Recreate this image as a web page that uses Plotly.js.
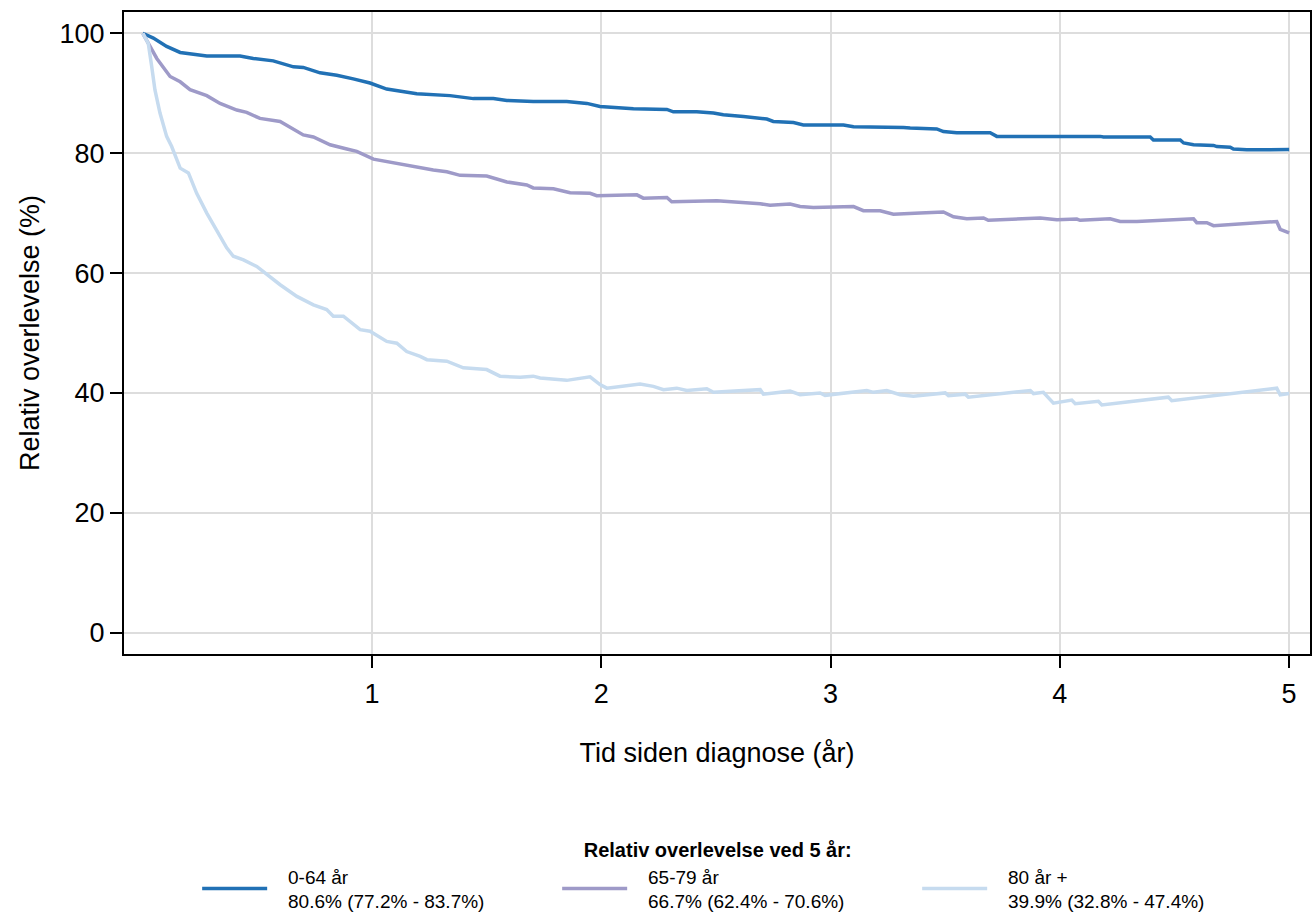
<!DOCTYPE html>
<html>
<head>
<meta charset="utf-8">
<script src="https://cdn.plot.ly/plotly-3.0.1.min.js"></script>
<style>html,body{margin:0;padding:0;background:#fff;}#chart{width:1313px;height:915px;}</style>
</head>
<body>
<div id="chart"></div>
<script>
// Series names (legend labels)
const groupNames = ["0-64 år", "65-79 år", "80 år +"];
const fiveYearText = ["80.6% (77.2% - 83.7%)", "66.7% (62.4% - 70.6%)", "39.9% (32.8% - 47.4%)"];
const legendTitle = "Relativ overlevelse ved 5 år:";

// 0-64 år
const x064 = [0,0.046,0.104,0.163,0.279,0.424,0.482,0.569,0.657,0.70,0.773,0.846,0.918,0.991,1.064,1.195,1.34,1.442,1.529,1.588,1.703,1.849,1.937,1.994,2.14,2.286,2.314,2.416,2.489,2.532,2.62,2.722,2.75,2.838,2.881,3.056,3.1,3.2,3.318,3.347,3.463,3.492,3.55,3.696,3.725,4.176,4.19,4.394,4.408,4.525,4.54,4.583,4.67,4.685,4.743,4.757,4.815,5.0];
const y064 = [100,99.2,97.8,96.8,96.2,96.2,95.8,95.4,94.4,94.3,93.4,93.0,92.4,91.7,90.7,89.9,89.6,89.1,89.1,88.8,88.6,88.6,88.3,87.8,87.4,87.3,86.9,86.9,86.7,86.4,86.1,85.7,85.3,85.1,84.7,84.7,84.4,84.4,84.3,84.2,84.05,83.6,83.4,83.4,82.8,82.8,82.7,82.7,82.2,82.2,81.7,81.4,81.3,81.1,81.0,80.7,80.55,80.6];

// 65-79 år
const x6579 = [0,0.032,0.061,0.119,0.163,0.206,0.279,0.337,0.41,0.453,0.511,0.599,0.628,0.70,0.744,0.817,0.89,0.933,1.006,1.079,1.166,1.267,1.326,1.384,1.5,1.588,1.675,1.703,1.791,1.864,1.951,1.98,2.155,2.183,2.286,2.307,2.504,2.634,2.693,2.736,2.823,2.867,2.925,3.1,3.143,3.216,3.274,3.39,3.492,3.536,3.594,3.667,3.688,3.914,3.987,4.074,4.088,4.219,4.263,4.336,4.583,4.597,4.641,4.67,4.946,4.961,5.0];
const y6579 = [100,97.8,95.8,92.8,91.9,90.6,89.6,88.3,87.2,86.8,85.8,85.3,84.7,83.05,82.7,81.4,80.7,80.3,79.0,78.5,77.8,77.2,76.9,76.3,76.2,75.2,74.7,74.2,74.05,73.4,73.3,72.9,73.05,72.5,72.6,71.9,72.05,71.8,71.55,71.3,71.5,71.1,70.95,71.1,70.4,70.4,69.8,70.0,70.2,69.4,69.05,69.2,68.8,69.2,68.9,69.0,68.8,69.05,68.6,68.6,69.05,68.4,68.4,67.9,68.6,67.3,66.7];

// 80 år +
const x80 = [0,0.024,0.039,0.053,0.075,0.104,0.126,0.163,0.199,0.235,0.279,0.33,0.366,0.395,0.439,0.497,0.555,0.599,0.672,0.744,0.802,0.831,0.875,0.948,0.991,1.064,1.108,1.151,1.21,1.239,1.326,1.398,1.5,1.558,1.646,1.703,1.733,1.849,1.951,1.994,2.024,2.169,2.227,2.271,2.329,2.373,2.46,2.489,2.562,2.693,2.707,2.823,2.867,2.954,2.976,3.158,3.187,3.245,3.303,3.361,3.5,3.514,3.587,3.601,3.871,3.885,3.928,3.943,3.972,4.052,4.067,4.168,4.183,4.473,4.488,4.946,4.961,5.0];
const y80 = [100,98.3,94.4,90.55,86.7,82.8,81.1,77.5,76.7,73.3,70.0,66.7,64.2,62.8,62.2,61.1,59.4,58.05,56.1,54.7,53.9,52.8,52.8,50.55,50.3,48.6,48.3,46.9,46.1,45.55,45.3,44.2,43.9,42.8,42.6,42.8,42.5,42.1,42.7,41.4,40.8,41.5,41.1,40.55,40.8,40.4,40.7,40.1,40.3,40.55,39.8,40.3,39.7,40.0,39.6,40.4,40.1,40.4,39.7,39.45,40.0,39.55,39.8,39.3,40.4,39.9,40.1,39.45,38.3,38.8,38.2,38.6,38.0,39.3,38.7,40.8,39.7,39.9];

const colors = ["#2171b5", "#9e9ac8", "#c6dbef"];
const xs = [x064, x6579, x80];
const ys = [y064, y6579, y80];
const pad = "\u00a0\u00a0\u00a0";

const traces = xs.map((x, i) => ({
  x: x, y: ys[i], type: "scatter", mode: "lines",
  name: pad + groupNames[i] + "<br>" + pad + fiveYearText[i],
  line: {color: colors[i], width: 3.5}, hoverinfo: "x+y"
}));

const font = "Arial, 'Liberation Sans', sans-serif";
const layout = {
  width: 1313, height: 915,
  margin: {l: 124, r: 3, t: 12, b: 261},
  paper_bgcolor: "#fff", plot_bgcolor: "#fff",
  font: {family: font, color: "#000"},
  showlegend: true,
  xaxis: {
    range: [-0.082, 5.091], tickvals: [1,2,3,4,5], ticktext: ["1","2","3","4","5"],
    showgrid: true, gridcolor: "#dddddd", gridwidth: 2, zeroline: false,
    showline: true, linecolor: "#000", linewidth: 2, mirror: true,
    ticks: "outside", ticklen: 12, tickwidth: 2, tickcolor: "#000",
    tickfont: {size: 27, family: font}, ticklabelstandoff: 3,
    title: {text: "Tid siden diagnose (år)", font: {size: 27, family: font}, standoff: 35},
    automargin: false
  },
  yaxis: {
    range: [-3.55, 103.55], tickvals: [0,20,40,60,80,100],
    showgrid: true, gridcolor: "#dddddd", gridwidth: 2, zeroline: false,
    showline: true, linecolor: "#000", linewidth: 2, mirror: true,
    ticks: "outside", ticklen: 12, tickwidth: 2, tickcolor: "#000",
    tickfont: {size: 27, family: font},
    title: {text: "Relativ overlevelse (%)", font: {size: 27, family: font}, standoff: 12},
    automargin: false
  },
  legend: {
    orientation: "h", x: 0.517, xanchor: "center",
    yref: "container", y: 0.0915, yanchor: "top",
    title: {text: "<b>" + legendTitle + "</b>" + "\u00a0".repeat(7), side: "top center", font: {size: 20, family: font}},
    font: {size: 19, family: font},
    itemwidth: 65, entrywidth: 280, entrywidthmode: "pixels",
    valign: "middle", bgcolor: "rgba(0,0,0,0)"
  }
};

Plotly.newPlot("chart", traces, layout, {displayModeBar: false, responsive: false});
</script>
</body>
</html>
